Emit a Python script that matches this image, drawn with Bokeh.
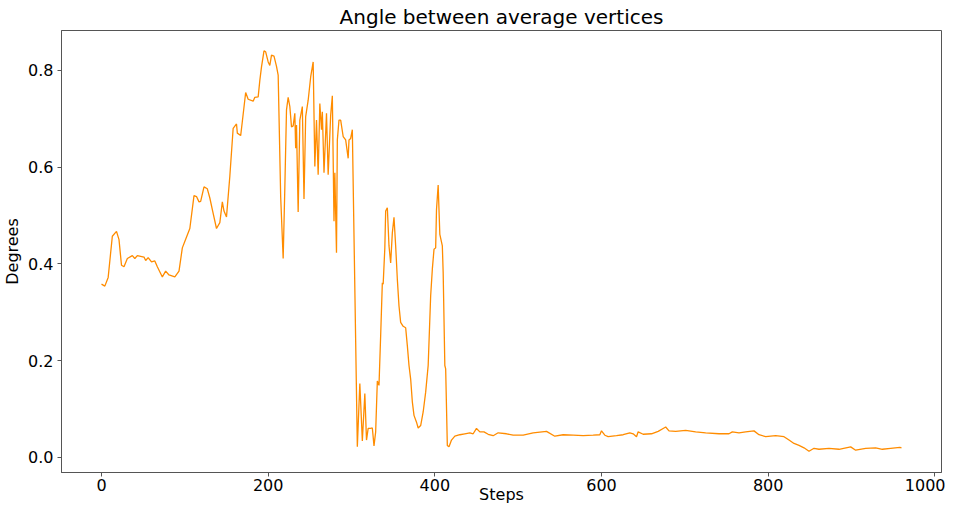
from bokeh.plotting import figure
from bokeh.models import FixedTicker, Range1d, CustomJSTickFormatter
from bokeh.embed import file_html
from bokeh.resources import INLINE

steps = [0, 4, 8, 13, 18, 21, 24, 27, 31, 37, 40, 43, 51, 53, 56, 60, 64, 67, 73, 77,
         81, 88, 93, 97, 101, 106, 111, 114, 117, 119, 123, 127, 130, 133, 138, 142, 145, 147, 150, 154,
         158, 162, 163, 167, 169, 173, 176, 182, 184, 188, 190, 192, 195, 197, 200, 202, 204, 207, 210, 212,
         215, 218, 220, 222, 224, 226, 228, 230, 232, 233, 234, 236, 238, 241, 243, 245, 248, 251, 254, 256,
         258, 260, 262, 264, 265, 267, 270, 272, 275, 277, 279, 280, 282, 283, 285, 287, 290, 293, 296, 297,
         299, 301, 307, 310, 313, 316, 318, 320, 323, 325, 327, 329, 331, 333, 335, 337, 338, 340, 341, 343,
         345, 347, 349, 351, 353, 355, 357, 359, 362, 365, 367, 369, 371, 373, 375, 378, 380, 383, 386, 389,
         392, 395, 397, 399, 401, 402, 404, 406, 409, 410, 412, 413, 415, 417, 420, 424, 430, 436, 442, 446,
         450, 454, 459, 464, 470, 476, 486, 494, 506, 518, 534, 544, 554, 566, 578, 590, 598, 600, 604, 608,
         618, 626, 634, 638, 642, 644, 650, 660, 668, 674, 677, 681, 689, 701, 713, 725, 741, 753, 757, 765,
         773, 783, 789, 797, 809, 819, 825, 831, 837, 843, 849, 855, 861, 873, 885, 899, 905, 917, 929, 937,
         947, 958, 960]

degrees = [0.358, 0.354, 0.372, 0.457, 0.467, 0.450, 0.397, 0.394, 0.411, 0.417, 0.411, 0.417, 0.414, 0.407, 0.413, 0.404, 0.406, 0.394, 0.373, 0.385,
           0.377, 0.373, 0.385, 0.433, 0.451, 0.473, 0.541, 0.539, 0.528, 0.529, 0.559, 0.555, 0.536, 0.512, 0.473, 0.485, 0.528, 0.509, 0.497, 0.581,
           0.680, 0.689, 0.670, 0.665, 0.694, 0.754, 0.740, 0.736, 0.744, 0.745, 0.779, 0.807, 0.840, 0.838, 0.817, 0.810, 0.831, 0.829, 0.808, 0.790,
           0.539, 0.411, 0.557, 0.718, 0.744, 0.725, 0.683, 0.685, 0.711, 0.639, 0.687, 0.507, 0.697, 0.725, 0.534, 0.704, 0.738, 0.786, 0.817, 0.601,
           0.697, 0.584, 0.731, 0.677, 0.714, 0.588, 0.711, 0.584, 0.707, 0.747, 0.488, 0.588, 0.423, 0.656, 0.697, 0.697, 0.663, 0.656, 0.618, 0.656,
           0.659, 0.677, 0.022, 0.153, 0.034, 0.132, 0.036, 0.060, 0.060, 0.061, 0.024, 0.053, 0.158, 0.149, 0.252, 0.361, 0.358, 0.433, 0.509, 0.516,
           0.437, 0.402, 0.464, 0.496, 0.437, 0.368, 0.313, 0.279, 0.271, 0.268, 0.231, 0.190, 0.162, 0.115, 0.087, 0.073, 0.061, 0.066, 0.094, 0.135,
           0.190, 0.334, 0.389, 0.430, 0.433, 0.512, 0.563, 0.461, 0.437, 0.382, 0.190, 0.183, 0.025, 0.022, 0.036, 0.044, 0.047, 0.049, 0.051, 0.049,
           0.060, 0.053, 0.053, 0.048, 0.045, 0.051, 0.049, 0.046, 0.046, 0.051, 0.054, 0.044, 0.047, 0.046, 0.045, 0.046, 0.047, 0.055, 0.046, 0.043,
           0.045, 0.047, 0.051, 0.049, 0.043, 0.053, 0.048, 0.049, 0.054, 0.060, 0.063, 0.055, 0.054, 0.056, 0.053, 0.051, 0.049, 0.049, 0.053, 0.051,
           0.053, 0.055, 0.047, 0.043, 0.045, 0.043, 0.036, 0.029, 0.025, 0.020, 0.013, 0.019, 0.017, 0.019, 0.017, 0.022, 0.015, 0.019, 0.020, 0.017,
           0.019, 0.021, 0.020]

x_ticks = [0, 200, 400, 600, 800, 1000]
y_ticks = [0.0, 0.2, 0.4, 0.6, 0.8]

FONT = "DejaVu Sans"
FRAME = "#555555"

p = figure(frame_width=880, frame_height=442, output_backend="svg", toolbar_location=None,
           title="Angle between average vertices",
           x_range=Range1d(-48, 1008), y_range=Range1d(-0.031, 0.882),
           min_border_left=57, min_border_right=4, min_border_top=0, min_border_bottom=0)

p.line(steps, degrees, line_color="#ff8c00", line_width=1.3)

p.title.text_font = FONT
p.title.text_font_size = "20px"
p.title.text_font_style = "normal"
p.title.align = "center"
p.title.text_color = "black"
p.title.standoff = 4

p.outline_line_color = FRAME
p.outline_line_width = 1
p.outline_line_alpha = 1
p.grid.visible = False

for ax in (p.xaxis[0], p.yaxis[0]):
    ax.axis_line_color = FRAME
    ax.major_tick_line_color = FRAME
    ax.major_tick_out = 4
    ax.major_tick_in = 0
    ax.minor_tick_line_color = None
    ax.major_label_text_font = FONT
    ax.major_label_text_font_size = "16px"
    ax.major_label_text_color = "black"
    ax.axis_label_text_font = FONT
    ax.axis_label_text_font_size = "16px"
    ax.axis_label_text_font_style = "normal"
    ax.axis_label_text_color = "black"

p.yaxis.major_label_standoff = 4
p.yaxis.axis_label_standoff = 3
p.xaxis.major_label_standoff = 2
p.xaxis.axis_label_standoff = -9

p.xaxis.ticker = FixedTicker(ticks=x_ticks)
p.yaxis.ticker = FixedTicker(ticks=y_ticks)
p.yaxis.formatter = CustomJSTickFormatter(code="return tick.toFixed(1);")
p.xaxis.axis_label = "Steps"
p.yaxis.axis_label = "Degrees"

open("out.html", "w").write(file_html(p, INLINE))
